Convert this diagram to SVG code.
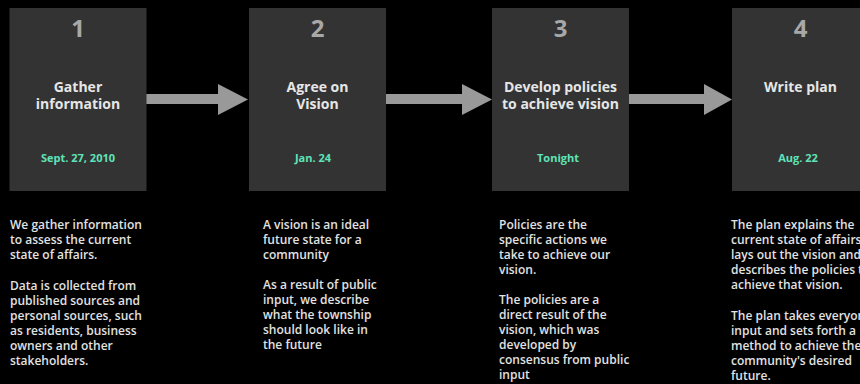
<svg xmlns="http://www.w3.org/2000/svg" width="860" height="384" viewBox="0 0 860 384">
<style>
.box{fill:#333333}
.num{font-family:"Open Sans","Liberation Sans",sans-serif;font-weight:700;font-size:24px;fill:#a8a8a8;text-anchor:middle}
.title{font-family:"Open Sans","Liberation Sans",sans-serif;font-weight:700;font-size:14px;fill:#e6e6e6;text-anchor:middle}
.date{font-family:"Open Sans","Liberation Sans",sans-serif;font-weight:700;font-size:11px;fill:#5fe3b8;text-anchor:middle}
.body{font-family:"Open Sans","Liberation Sans",sans-serif;font-weight:600;font-size:12px;fill:#e2e2e2}
.arrow{fill:#999999}
</style>
<rect x="0" y="0" width="860" height="384" fill="#000000"/>
<g id="connectors">
<polygon class="arrow" points="146,94 218,94 218,84 248,99.5 218,115 218,104 146,104"/>
<polygon class="arrow" points="386,94 462,94 462,84 492,99.5 462,115 462,104 386,104"/>
<polygon class="arrow" points="629,94 704,94 704,84 732,99.5 704,115 704,104 629,104"/>
</g>
<g id="step1">
<rect class="box" x="9.5" y="8" width="137" height="183"/>
<text class="num" x="78" y="37">1</text>
<text class="title" x="78" y="92">Gather</text>
<text class="title" x="78" y="109">information</text>
<text class="date" x="78" y="162">Sept. 27, 2010</text>
<text class="body" x="10" y="229">We gather information</text>
<text class="body" x="10" y="244">to assess the current</text>
<text class="body" x="10" y="259">state of affairs.</text>
<text class="body" x="10" y="290">Data is collected from</text>
<text class="body" x="10" y="305">published sources and</text>
<text class="body" x="10" y="320">personal sources, such</text>
<text class="body" x="10" y="335">as residents, business</text>
<text class="body" x="10" y="350">owners and other</text>
<text class="body" x="10" y="365">stakeholders.</text>
</g>
<g id="step2">
<rect class="box" x="249" y="8" width="137" height="183"/>
<text class="num" x="317.5" y="37">2</text>
<text class="title" x="317.5" y="92">Agree on</text>
<text class="title" x="317.5" y="109">Vision</text>
<text class="date" x="313" y="162">Jan. 24</text>
<text class="body" x="263" y="229">A vision is an ideal</text>
<text class="body" x="263" y="244">future state for a</text>
<text class="body" x="263" y="259">community</text>
<text class="body" x="263" y="289">As a result of public</text>
<text class="body" x="263" y="304">input, we describe</text>
<text class="body" x="263" y="319">what the township</text>
<text class="body" x="263" y="334">should look like in</text>
<text class="body" x="263" y="349">the future</text>
</g>
<g id="step3">
<rect class="box" x="492" y="8" width="137" height="183"/>
<text class="num" x="560.5" y="37">3</text>
<text class="title" x="560.5" y="92">Develop policies</text>
<text class="title" x="560.5" y="109">to achieve vision</text>
<text class="date" x="558" y="162">Tonight</text>
<text class="body" x="499" y="229">Policies are the</text>
<text class="body" x="499" y="244">specific actions we</text>
<text class="body" x="499" y="259">take to achieve our</text>
<text class="body" x="499" y="274">vision.</text>
<text class="body" x="499" y="304">The policies are a</text>
<text class="body" x="499" y="319">direct result of the</text>
<text class="body" x="499" y="334">vision, which was</text>
<text class="body" x="499" y="349">developed by</text>
<text class="body" x="499" y="364">consensus from public</text>
<text class="body" x="499" y="379">input</text>
</g>
<g id="step4">
<rect class="box" x="732" y="8" width="137" height="183"/>
<text class="num" x="800.5" y="37">4</text>
<text class="title" x="800.5" y="92">Write plan</text>
<text class="date" x="798" y="162">Aug. 22</text>
<text class="body" x="731" y="229">The plan explains the</text>
<text class="body" x="731" y="244">current state of affairs,</text>
<text class="body" x="731" y="259">lays out the vision and</text>
<text class="body" x="731" y="274">describes the policies to</text>
<text class="body" x="731" y="289">achieve that vision.</text>
<text class="body" x="731" y="320">The plan takes everyone's</text>
<text class="body" x="731" y="335">input and sets forth a</text>
<text class="body" x="731" y="350">method to achieve the</text>
<text class="body" x="731" y="365">community's desired</text>
<text class="body" x="731" y="380">future.</text>
</g>
</svg>
